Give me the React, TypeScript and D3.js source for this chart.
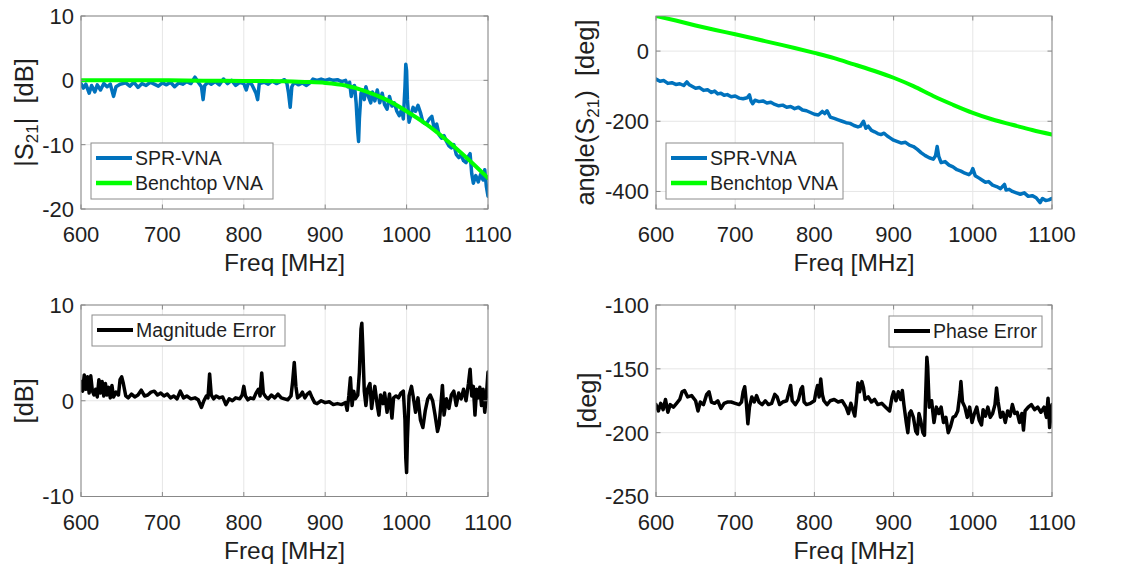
import * as d3 from 'd3';

// frequency axis shared by all four panels
const freqTicks = [600, 700, 800, 900, 1000, 1100];

// |S21| in dB, [MHz, dB]
const sprMag: [number, number][] = [
  [600, -0.5], [603, -1.2], [606, -0.6], [610, -2.0], [613, -0.8], [617, -1.8], [620, -0.7],
  [624, -1.5], [628, -0.5], [632, -1.0], [636, -0.6], [640, -2.5], [643, -1.0], [648, -0.6],
  [655, -0.4], [660, -0.9], [665, -0.3], [670, -1.1], [675, -0.5], [680, -0.8], [685, -0.3],
  [690, -0.6], [695, -0.9], [700, -0.4], [705, -0.7], [710, -0.3], [715, -1.0], [720, -0.4],
  [725, -0.6], [730, -0.2], [735, -0.5], [740, 0.5], [744, -0.3], [748, -1.0], [750, -3.0],
  [752, -0.8], [756, -0.3], [760, -0.6], [765, -0.2], [770, -0.7], [775, 0.2], [780, -0.5],
  [785, 0.0], [790, -0.8], [795, -0.3], [800, -0.5], [803, -1.5], [806, -0.2], [810, -0.7],
  [815, -2.0], [817, -3.0], [819, -0.5], [825, -0.3], [830, -0.6], [835, -0.1], [840, -0.5],
  [845, -0.2], [850, 0.1], [853, -0.5], [855, -2.0], [857, -4.2], [859, -1.0], [862, -0.3],
  [867, -0.7], [872, -0.4], [877, -0.8], [882, -0.3], [885, 0.2], [890, 0.0], [895, 0.2],
  [900, 0.0], [905, 0.2], [910, 0.0], [915, 0.1], [920, -0.2], [925, 0.0], [928, -1.0],
  [930, -0.3], [932, -2.5], [934, -1.0], [936, -0.8], [938, -3.5], [940, -8.0], [941, -9.5],
  [942, -6.0], [944, -2.0], [946, -1.5], [948, -3.0], [950, -1.0], [953, -2.5], [956, -3.5],
  [958, -1.8], [961, -3.2], [964, -1.5], [967, -3.5], [970, -2.0], [973, -3.8], [976, -4.5],
  [979, -2.5], [982, -4.0], [985, -3.5], [988, -4.8], [991, -5.5], [994, -4.5], [996, -6.0],
  [998, -1.0], [999, 2.5], [1000, 1.5], [1001, -3.0], [1003, -6.5], [1005, -5.5], [1008, -4.2],
  [1011, -4.8], [1014, -3.9], [1017, -5.0], [1020, -6.5], [1024, -6.8], [1028, -6.0],
  [1031, -5.6], [1034, -7.5], [1037, -6.8], [1040, -8.5], [1043, -9.0], [1046, -8.6],
  [1049, -9.5], [1052, -10.2], [1055, -10.5], [1058, -10.0], [1061, -11.5], [1064, -12.0],
  [1067, -11.6], [1070, -12.5], [1073, -12.8], [1076, -11.8], [1078, -11.4], [1080, -14.5],
  [1082, -16.0], [1085, -14.8], [1088, -15.8], [1091, -14.6], [1094, -15.5], [1096, -13.9],
  [1098, -16.5], [1100, -18.0],
];

const benchMag: [number, number][] = [
  [600, 0], [650, 0], [700, 0], [750, -0.05], [800, -0.1], [850, -0.15], [875, -0.25],
  [900, -0.4], [925, -0.8], [950, -1.7], [975, -3.0], [1000, -4.8], [1025, -6.9],
  [1050, -9.4], [1075, -12.2], [1100, -15.2],
];

// angle(S21) in degrees
const sprPhase: [number, number][] = [
  [600, -80], [605, -86], [610, -84], [615, -92], [620, -90], [625, -95], [630, -93],
  [635, -98], [639, -88], [642, -96], [646, -101], [650, -106], [655, -104], [660, -112],
  [665, -110], [670, -118], [674, -114], [678, -122], [682, -120], [686, -126], [690, -124],
  [695, -130], [700, -128], [705, -134], [710, -136], [715, -133], [718, -125], [720, -142],
  [722, -150], [725, -140], [730, -144], [735, -142], [740, -148], [745, -146], [750, -152],
  [755, -156], [760, -154], [765, -160], [770, -158], [775, -164], [780, -160], [785, -168],
  [790, -170], [795, -175], [800, -180], [805, -182], [810, -172], [813, -178], [816, -170],
  [820, -188], [825, -192], [830, -196], [835, -200], [840, -204], [845, -206], [850, -212],
  [855, -216], [858, -214], [862, -200], [865, -220], [868, -214], [872, -226], [876, -230],
  [880, -235], [884, -238], [888, -234], [892, -242], [896, -248], [900, -254], [905, -258],
  [910, -262], [915, -260], [920, -268], [925, -272], [930, -280], [935, -290], [940, -298],
  [945, -304], [950, -308], [953, -298], [955, -272], [957, -300], [960, -318], [965, -315],
  [970, -325], [975, -330], [980, -338], [985, -342], [990, -348], [995, -352], [998, -346],
  [1000, -335], [1003, -355], [1008, -362], [1012, -368], [1016, -374], [1020, -372],
  [1025, -382], [1030, -386], [1035, -392], [1040, -380], [1042, -396], [1046, -394],
  [1050, -400], [1055, -404], [1060, -408], [1065, -404], [1070, -414], [1075, -412],
  [1080, -418], [1085, -432], [1088, -420], [1092, -426], [1096, -424], [1100, -420],
];

const benchPhase: [number, number][] = [
  [600, 100], [625, 87], [650, 73], [675, 60], [700, 48], [725, 35], [750, 22], [775, 9],
  [800, -5], [825, -20], [850, -38], [875, -56], [900, -76], [925, -100], [950, -128],
  [975, -153], [1000, -176], [1025, -195], [1050, -210], [1075, -225], [1100, -238],
];

// magnitude error in dB
const magError: [number, number][] = [
  [600, 2.0], [602, 1.0], [604, 2.7], [606, 1.2], [608, 2.5], [610, 0.8], [612, 2.6],
  [614, 1.0], [616, 0.6], [618, 1.2], [620, 0.4], [622, 2.2], [624, 0.8], [626, 2.0],
  [628, 0.5], [630, 1.8], [632, 0.6], [634, 1.4], [636, 0.3], [638, 1.6], [640, 0.4],
  [643, 0.9], [646, 0.6], [648, 2.2], [650, 2.5], [652, 1.8], [655, 0.5], [658, 0.3],
  [662, 0.7], [666, 0.4], [670, 0.6], [674, 1.1], [678, 0.5], [682, 0.6], [686, 0.9],
  [690, 1.0], [694, 0.6], [698, 0.8], [702, 0.5], [706, 0.7], [710, 0.3], [714, 0.5],
  [718, 0.2], [722, 1.0], [726, 0.3], [730, 0.5], [735, 0.2], [740, 0.3], [744, 0.1],
  [748, -0.7], [751, 0.0], [754, 0.5], [756, 0.3], [758, 2.8], [760, 0.6], [763, 0.2],
  [766, 0.5], [770, 0.3], [774, 0.4], [778, -0.4], [782, 0.2], [786, 0.0], [790, 0.3],
  [795, 0.2], [798, 0.6], [800, 1.5], [802, 0.5], [805, 0.1], [808, 0.3], [812, 0.2],
  [815, 0.8], [818, 1.2], [820, 0.5], [822, 2.9], [824, 0.8], [827, 0.4], [830, 0.2],
  [834, 0.6], [838, 0.3], [842, 0.7], [846, 0.3], [850, 0.2], [854, 0.1], [858, 0.5],
  [860, 2.0], [862, 4.0], [864, 1.5], [866, 0.3], [869, 0.5], [872, 0.9], [875, 0.3],
  [878, 0.7], [881, 0.9], [884, 0.3], [887, -0.2], [890, -0.3], [895, 0.0], [900, -0.2],
  [905, -0.1], [910, -0.4], [915, -0.3], [920, -0.4], [925, -0.2], [927, -1.0], [929, 0.5],
  [931, 2.4], [933, -0.5], [935, 1.0], [937, 0.2], [940, 0.6], [942, 3.0], [944, 7.5],
  [945, 8.1], [946, 6.0], [948, 1.0], [950, -0.5], [952, 1.2], [955, 1.8], [957, -0.8],
  [959, 0.5], [961, 1.5], [964, -0.5], [966, -1.5], [968, 0.6], [971, -0.3], [973, 0.8],
  [976, -1.2], [979, 0.7], [982, -1.8], [984, 0.3], [987, 0.5], [990, 0.3], [993, 0.8],
  [996, 1.0], [998, -2.0], [999, -6.0], [1000, -7.5], [1001, -4.0], [1003, 0.5], [1006, 1.5],
  [1008, 0.5], [1011, -1.2], [1014, 0.3], [1017, -2.0], [1020, -2.8], [1023, -1.0],
  [1026, 0.2], [1029, 0.6], [1032, 0.0], [1035, -1.5], [1038, -3.2], [1040, -2.5],
  [1042, -0.5], [1044, 1.6], [1046, -1.5], [1049, 0.2], [1052, -0.8], [1055, 0.6],
  [1058, 1.0], [1061, -0.5], [1064, 0.8], [1067, 0.2], [1070, 1.2], [1073, 0.0], [1076, 1.8],
  [1078, 3.3], [1080, 0.5], [1082, 1.5], [1084, -1.5], [1086, 1.2], [1088, 0.3], [1090, 1.4],
  [1092, -0.5], [1094, 1.2], [1096, -1.2], [1098, 0.5], [1100, 3.0],
];

// phase error in degrees
const phaseError: [number, number][] = [
  [600, -178], [603, -183], [606, -177], [609, -182], [612, -174], [615, -184], [618, -178],
  [622, -180], [626, -177], [630, -174], [633, -168], [636, -167], [640, -172], [645, -171],
  [650, -175], [653, -183], [656, -176], [660, -178], [664, -170], [667, -168], [670, -176],
  [674, -177], [678, -175], [682, -181], [686, -177], [690, -176], [695, -176], [700, -177],
  [705, -178], [708, -176], [710, -168], [712, -164], [714, -176], [716, -193], [718, -180],
  [721, -172], [724, -176], [727, -171], [730, -176], [734, -178], [738, -175], [742, -178],
  [746, -177], [750, -170], [753, -172], [756, -178], [760, -176], [765, -175], [768, -168],
  [770, -163], [772, -175], [776, -178], [780, -174], [783, -166], [785, -164], [787, -176],
  [790, -178], [795, -177], [800, -175], [802, -168], [804, -163], [806, -172], [808, -158],
  [810, -170], [812, -175], [816, -178], [820, -175], [825, -174], [830, -176], [835, -175],
  [840, -180], [843, -185], [846, -177], [849, -183], [851, -187], [853, -175], [855, -161],
  [857, -168], [860, -160], [862, -165], [864, -174], [868, -172], [872, -176], [876, -174],
  [880, -178], [885, -177], [890, -180], [895, -183], [898, -172], [900, -168], [903, -175],
  [906, -168], [909, -174], [911, -167], [913, -178], [916, -192], [918, -200], [920, -185],
  [922, -183], [925, -188], [928, -199], [930, -201], [932, -185], [934, -190], [937, -200],
  [939, -202], [940, -180], [942, -141], [943, -148], [945, -180], [948, -175], [951, -192],
  [954, -180], [957, -185], [960, -180], [963, -192], [966, -188], [969, -200], [972, -195],
  [975, -188], [978, -187], [981, -183], [984, -168], [985, -160], [987, -176], [990, -180],
  [993, -188], [996, -180], [999, -192], [1002, -185], [1005, -180], [1008, -190],
  [1011, -194], [1013, -182], [1016, -187], [1019, -180], [1022, -188], [1025, -185],
  [1028, -178], [1030, -165], [1032, -176], [1035, -188], [1038, -184], [1041, -192],
  [1044, -183], [1047, -187], [1050, -178], [1053, -185], [1056, -184], [1059, -192],
  [1062, -185], [1064, -198], [1066, -183], [1070, -180], [1074, -178], [1078, -182],
  [1082, -180], [1086, -184], [1090, -180], [1093, -188], [1095, -173], [1097, -196],
  [1099, -185], [1100, -178],
];

const magTicks = [-20, -10, 0, 10];
const phaseTicks = [-400, -200, 0];
const magErrTicks = [-10, 0, 10];
const phaseErrTicks = [-250, -200, -150, -100];

const BLUE = '#0072BD';
const GREEN = '#00FF00';
const FONT = '"Liberation Sans", Arial, Helvetica, sans-serif';
const TEXT = '#1f1f1f';

type Series = { data: [number, number][]; color: string; width: number; name: string; smooth?: boolean };

interface PanelProps {
  id: string;
  left: number;
  top: number;
  width: number;
  height: number;
  yDomain: [number, number];
  yTicks: number[];
  series: Series[];
  ylabel: React.ReactNode;
  ylabelX: number;
  legend: { x: number; y: number; w: number };
}

function Panel({ id, left, top, width, height, yDomain, yTicks, series, ylabel, ylabelX, legend }: PanelProps) {
  const x = d3.scaleLinear().domain([600, 1100]).range([left, left + width]);
  const y = d3.scaleLinear().domain(yDomain).range([top + height, top]);
  const bottom = top + height;
  const right = left + width;
  const tick = 4.5;
  const rowH = 25;
  const legH = series.length * rowH + 6;

  return (
    <g>
      <defs>
        <clipPath id={id}>
          <rect x={left} y={top} width={width} height={height} />
        </clipPath>
      </defs>
      <rect x={left} y={top} width={width} height={height} fill="#fff" />
      {/* grid */}
      {freqTicks.map((t) => (
        <line key={'gx' + t} x1={x(t)} x2={x(t)} y1={top} y2={bottom} stroke="#e6e6e6" strokeWidth={1} />
      ))}
      {yTicks.map((t) => (
        <line key={'gy' + t} x1={left} x2={right} y1={y(t)} y2={y(t)} stroke="#e6e6e6" strokeWidth={1} />
      ))}
      {/* data */}
      <g clipPath={`url(#${id})`}>
        {series.map((s) => {
          const line = d3
            .line<[number, number]>()
            .x((d) => x(d[0]))
            .y((d) => y(d[1]))
            .curve(s.smooth ? d3.curveMonotoneX : d3.curveLinear);
          return (
            <path
              key={s.name}
              d={line(s.data) ?? ''}
              fill="none"
              stroke={s.color}
              strokeWidth={s.width}
              strokeLinejoin="round"
              strokeLinecap="round"
            />
          );
        })}
      </g>
      {/* box and ticks */}
      <rect x={left} y={top} width={width} height={height} fill="none" stroke="#888" strokeWidth={1} />
      {freqTicks.map((t) => (
        <g key={'tx' + t}>
          <line x1={x(t)} x2={x(t)} y1={bottom} y2={bottom - tick} stroke="#888" />
          <line x1={x(t)} x2={x(t)} y1={top} y2={top + tick} stroke="#888" />
          <text x={x(t)} y={bottom + 33} textAnchor="middle" fontSize={22} fontFamily={FONT} fill={TEXT}>
            {t}
          </text>
        </g>
      ))}
      {yTicks.map((t) => (
        <g key={'ty' + t}>
          <line x1={left} x2={left + tick} y1={y(t)} y2={y(t)} stroke="#888" />
          <line x1={right} x2={right - tick} y1={y(t)} y2={y(t)} stroke="#888" />
          <text x={left - 7} y={y(t)} dy="0.36em" textAnchor="end" fontSize={22} fontFamily={FONT} fill={TEXT}>
            {t}
          </text>
        </g>
      ))}
      <text
        x={(left + right) / 2}
        y={bottom + 62}
        textAnchor="middle"
        fontSize={24.5}
        fontFamily={FONT}
        fill={TEXT}
      >
        Freq [MHz]
      </text>
      <text
        transform={`translate(${ylabelX},${(top + bottom) / 2}) rotate(-90)`}
        textAnchor="middle"
        fontSize={25.5}
        fontFamily={FONT}
        fill={TEXT}
        style={{ whiteSpace: 'pre' }}
      >
        {ylabel}
      </text>
      {/* legend */}
      <rect x={legend.x} y={legend.y} width={legend.w} height={legH} fill="#fff" stroke="#8c8c8c" strokeWidth={1} />
      {series.map((s, i) => {
        const cy = legend.y + 15 + i * rowH;
        return (
          <g key={'lg' + s.name}>
            <line x1={legend.x + 5} x2={legend.x + 41} y1={cy} y2={cy} stroke={s.color} strokeWidth={s.width + 0.5} />
            <text x={legend.x + 44} y={cy} dy="0.36em" fontSize={19.5} fontFamily={FONT} fill={TEXT}>
              {s.name}
            </text>
          </g>
        );
      })}
    </g>
  );
}

export default function App() {
  return (
    <svg
      width={1135}
      height={573}
      viewBox="0 0 1135 573"
      style={{ position: 'absolute', left: 0, top: 0, background: '#fff' }}
    >
      <Panel
        id="c1"
        left={81}
        top={16}
        width={407}
        height={193}
        yDomain={[-20, 10]}
        yTicks={magTicks}
        series={[
          { data: sprMag, color: BLUE, width: 3.5, name: 'SPR-VNA' },
          { data: benchMag, color: GREEN, width: 4, name: 'Benchtop VNA', smooth: true },
        ]}
        ylabel={
          <>
            |S<tspan fontSize={17} dy="5">21</tspan>
            <tspan dy="-5">|  [dB]</tspan>
          </>
        }
        ylabelX={33}
        legend={{ x: 91, y: 143, w: 182 }}
      />
      <Panel
        id="c2"
        left={656}
        top={16}
        width={396}
        height={193}
        yDomain={[-450, 100]}
        yTicks={phaseTicks}
        series={[
          { data: sprPhase, color: BLUE, width: 3.5, name: 'SPR-VNA' },
          { data: benchPhase, color: GREEN, width: 4, name: 'Benchtop VNA', smooth: true },
        ]}
        ylabel={
          <>
            angle(S<tspan fontSize={17} dy="5">21</tspan>
            <tspan dy="-5">)  [deg]</tspan>
          </>
        }
        ylabelX={594}
        legend={{ x: 666, y: 143, w: 177 }}
      />
      <Panel
        id="c3"
        left={81}
        top={305}
        width={407}
        height={191.5}
        yDomain={[-10, 10]}
        yTicks={magErrTicks}
        series={[{ data: magError, color: '#000', width: 3.5, name: 'Magnitude Error' }]}
        ylabel={'[dB]'}
        ylabelX={33}
        legend={{ x: 92, y: 315, w: 193 }}
      />
      <Panel
        id="c4"
        left={656}
        top={305}
        width={396}
        height={191.5}
        yDomain={[-250, -100]}
        yTicks={phaseErrTicks}
        series={[{ data: phaseError, color: '#000', width: 3.5, name: 'Phase Error' }]}
        ylabel={'[deg]'}
        ylabelX={596}
        legend={{ x: 889, y: 316, w: 153 }}
      />
    </svg>
  );
}
